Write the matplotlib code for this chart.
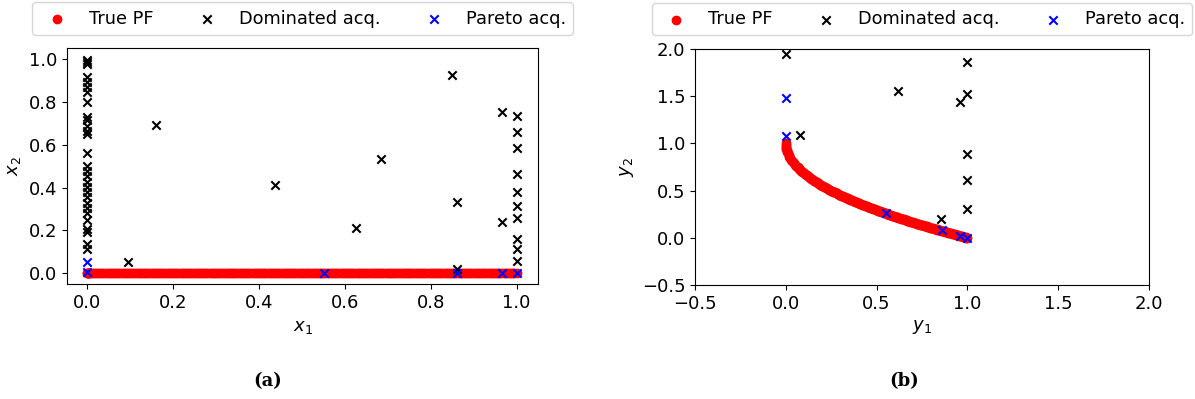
import numpy as np
import matplotlib.pyplot as plt

# true Pareto front, y1 / y2 values
pf_y1 = [0.0, 0.0005, 0.001, 0.002, 0.003, 0.005, 0.0075, 0.01, 0.015, 0.02,
         0.025, 0.03, 0.035, 0.04, 0.045, 0.05, 0.055, 0.06, 0.065, 0.07,
         0.075, 0.08, 0.085, 0.09, 0.095,
         0.100, 0.105, 0.110, 0.115, 0.120, 0.125, 0.130, 0.135, 0.140, 0.145,
         0.150, 0.155, 0.160, 0.165, 0.170, 0.175, 0.180, 0.185, 0.190, 0.195,
         0.200, 0.205, 0.210, 0.215, 0.220, 0.225, 0.230, 0.235, 0.240, 0.245,
         0.250, 0.255, 0.260, 0.265, 0.270, 0.275, 0.280, 0.285, 0.290, 0.295,
         0.300, 0.305, 0.310, 0.315, 0.320, 0.325, 0.330, 0.335, 0.340, 0.345,
         0.350, 0.355, 0.360, 0.365, 0.370, 0.375, 0.380, 0.385, 0.390, 0.395,
         0.400, 0.405, 0.410, 0.415, 0.420, 0.425, 0.430, 0.435, 0.440, 0.445,
         0.450, 0.455, 0.460, 0.465, 0.470, 0.475, 0.480, 0.485, 0.490, 0.495,
         0.500, 0.505, 0.510, 0.515, 0.520, 0.525, 0.530, 0.535, 0.540, 0.545,
         0.550, 0.555, 0.560, 0.565, 0.570, 0.575, 0.580, 0.585, 0.590, 0.595,
         0.600, 0.605, 0.610, 0.615, 0.620, 0.625, 0.630, 0.635, 0.640, 0.645,
         0.650, 0.655, 0.660, 0.665, 0.670, 0.675, 0.680, 0.685, 0.690, 0.695,
         0.700, 0.705, 0.710, 0.715, 0.720, 0.725, 0.730, 0.735, 0.740, 0.745,
         0.750, 0.755, 0.760, 0.765, 0.770, 0.775, 0.780, 0.785, 0.790, 0.795,
         0.800, 0.805, 0.810, 0.815, 0.820, 0.825, 0.830, 0.835, 0.840, 0.845,
         0.850, 0.855, 0.860, 0.865, 0.870, 0.875, 0.880, 0.885, 0.890, 0.895,
         0.900, 0.905, 0.910, 0.915, 0.920, 0.925, 0.930, 0.935, 0.940, 0.945,
         0.950, 0.955, 0.960, 0.965, 0.970, 0.975, 0.980, 0.985, 0.990, 0.995,
         1.000]
pf_y2 = [1.000, 0.978, 0.968, 0.955, 0.945, 0.929, 0.913, 0.900, 0.878, 0.859,
         0.842, 0.827, 0.813, 0.800, 0.788, 0.776, 0.765, 0.755, 0.745, 0.735,
         0.726, 0.717, 0.708, 0.700, 0.692,
         0.684, 0.676, 0.668, 0.661, 0.654, 0.646, 0.639, 0.633, 0.626, 0.619,
         0.613, 0.606, 0.600, 0.594, 0.588, 0.582, 0.576, 0.570, 0.564, 0.558,
         0.553, 0.547, 0.542, 0.536, 0.531, 0.526, 0.520, 0.515, 0.510, 0.505,
         0.500, 0.495, 0.490, 0.485, 0.480, 0.476, 0.471, 0.466, 0.461, 0.457,
         0.452, 0.448, 0.443, 0.439, 0.434, 0.430, 0.426, 0.421, 0.417, 0.413,
         0.408, 0.404, 0.400, 0.396, 0.392, 0.388, 0.384, 0.380, 0.376, 0.372,
         0.368, 0.364, 0.360, 0.356, 0.352, 0.348, 0.344, 0.340, 0.337, 0.333,
         0.329, 0.325, 0.322, 0.318, 0.314, 0.311, 0.307, 0.304, 0.300, 0.296,
         0.293, 0.289, 0.286, 0.282, 0.279, 0.275, 0.272, 0.269, 0.265, 0.262,
         0.258, 0.255, 0.252, 0.248, 0.245, 0.242, 0.238, 0.235, 0.232, 0.229,
         0.225, 0.222, 0.219, 0.216, 0.213, 0.209, 0.206, 0.203, 0.200, 0.197,
         0.194, 0.191, 0.188, 0.185, 0.181, 0.178, 0.175, 0.172, 0.169, 0.166,
         0.163, 0.160, 0.157, 0.154, 0.151, 0.149, 0.146, 0.143, 0.140, 0.137,
         0.134, 0.131, 0.128, 0.125, 0.122, 0.120, 0.117, 0.114, 0.111, 0.108,
         0.106, 0.103, 0.100, 0.097, 0.094, 0.092, 0.089, 0.086, 0.083, 0.081,
         0.078, 0.075, 0.073, 0.070, 0.067, 0.065, 0.062, 0.059, 0.057, 0.054,
         0.051, 0.049, 0.046, 0.043, 0.041, 0.038, 0.036, 0.033, 0.030, 0.028,
         0.025, 0.023, 0.020, 0.018, 0.015, 0.013, 0.010, 0.008, 0.005, 0.003,
         0.000]
# in decision space the front sits at x1 = y1, x2 = 0
pf_x1 = pf_y1
pf_x2 = [0.0] * len(pf_y1)

# panel (a): dominated acquisitions in decision space
dom_x1 = [0.0] * 29 + [0.095, 0.161, 0.437, 0.625, 0.684, 0.850, 0.862, 0.862,
                       0.967, 0.967] + [1.0] * 10
dom_x2 = [0.995, 0.986, 0.977, 0.917, 0.894, 0.871, 0.847, 0.800, 0.728, 0.715,
          0.687, 0.666, 0.650, 0.563, 0.501, 0.477, 0.454, 0.427, 0.404, 0.379,
          0.357, 0.327, 0.303, 0.280, 0.249, 0.205, 0.194, 0.137, 0.112,
          0.051, 0.692, 0.412, 0.210, 0.532, 0.925, 0.333, 0.022,
          0.754, 0.241,
          0.735, 0.661, 0.583, 0.462, 0.381, 0.314, 0.257, 0.159, 0.113, 0.059]
par_x1 = [0.0, 0.0, 0.551, 0.862, 0.967, 1.0]
par_x2 = [0.005, 0.053, 0.0, 0.0, 0.0, 0.0]

# panel (b): acquisitions in objective space
dom_y1 = [0.0, 0.08, 0.616, 0.996, 1.0, 0.96, 1.0, 1.0, 1.0, 0.855]
dom_y2 = [1.944, 1.092, 1.555, 1.866, 1.52, 1.442, 0.885, 0.612, 0.308, 0.196]
par_y1 = [0.0, 0.0, 0.55, 0.86, 0.96, 1.0]
par_y2 = [1.484, 1.075, 0.262, 0.078, 0.02, 0.0]

fs = 13
plt.rcParams['font.size'] = fs

fig = plt.figure(figsize=(11.95, 3.99), dpi=100)
ax1 = fig.add_axes([0.0561, 0.2870, 0.3941, 0.5920])
ax2 = fig.add_axes([0.5816, 0.2857, 0.3799, 0.5915])

ax1.scatter(pf_x1, pf_x2, color='red', marker='o', label='True PF')
ax1.scatter(dom_x1, dom_x2, color='black', marker='x', label='Dominated acq.')
ax1.scatter(par_x1, par_x2, color='blue', marker='x', label='Pareto acq.')
ax1.set_xlabel('$x_1$')
ax1.set_ylabel('$x_2$')
ax1.set_xlim(-0.047, 1.05)
ax1.set_ylim(-0.052, 1.05)
ax1.legend(loc='lower center', bbox_to_anchor=(0.5, 1.02), ncol=3, fontsize=12.8)

ax2.scatter(pf_y1, pf_y2, color='red', marker='o', label='True PF')
ax2.scatter(dom_y1, dom_y2, color='black', marker='x', label='Dominated acq.')
ax2.scatter(par_y1, par_y2, color='blue', marker='x', label='Pareto acq.')
ax2.set_xlabel('$y_1$')
ax2.set_ylabel('$y_2$')
ax2.set_xlim(-0.5, 2.0)
ax2.set_ylim(-0.5, 2.0)
ax2.legend(loc='lower center', bbox_to_anchor=(0.5, 1.02), ncol=3, fontsize=12.8)

fig.text(0.224, 0.045, '(a)', ha='center', va='center', fontsize=fs,
         fontweight='bold', family='DejaVu Serif')
fig.text(0.757, 0.045, '(b)', ha='center', va='center', fontsize=fs,
         fontweight='bold', family='DejaVu Serif')

fig.savefig('out.png', dpi=100)
